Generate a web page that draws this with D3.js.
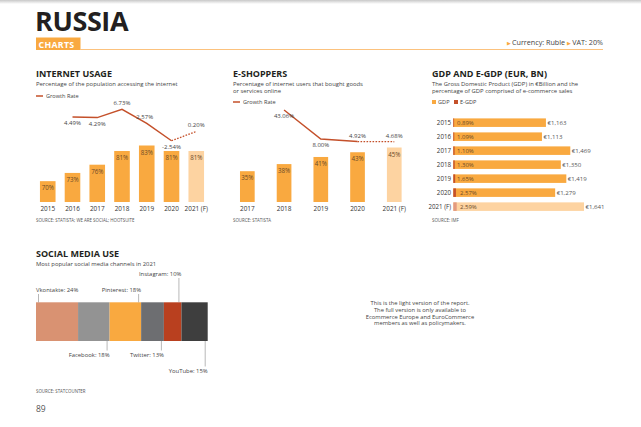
<!DOCTYPE html>
<html>
<head>
<meta charset="utf-8">
<script src="https://cdn.jsdelivr.net/npm/d3@7"></script>
<style>
  body { margin: 0; background: #fff; }
  text { font-family: "Open Sans", sans-serif; }
</style>
</head>
<body>
<div id="page"></div>
<script>
// chart values
var usageYears = ["2015", "2016", "2017", "2018", "2019", "2020", "2021 (F)"];
var usageValues = [70, 73, 76, 81, 83, 81, 81];
var usageGrowth = [null, 4.49, 4.29, 6.73, 2.57, -2.54, 0.20];

var shopperYears = ["2017", "2018", "2019", "2020", "2021 (F)"];
var shopperValues = [35, 38, 41, 43, 45];
var shopperGrowth = [null, 43.06, 8.00, 4.92, 4.68];

var gdpYears = ["2015", "2016", "2017", "2018", "2019", "2020", "2021 (F)"];
var gdpValues = [1163, 1113, 1469, 1350, 1419, 1279, 1641];
var egdpShare = [0.89, 1.09, 1.10, 1.30, 1.65, 2.57, 2.59];

var socialNames = ["Vkontakte", "Facebook", "Pinterest", "Twitter", "Instagram", "YouTube"];
var socialShares = [24, 18, 18, 13, 10, 15];

var orange = "#f9a940", orangeLight = "#fdd3a1", red = "#c4502a", redLight = "#e39a7f";
var dark = "#231f20", grey = "#555";

var W = 641, H = 427;
var svg = d3.select("#page").append("svg")
  .attr("width", W).attr("height", H);

// page shadow along the top
var grad = svg.append("defs").append("linearGradient")
  .attr("id", "topShade").attr("x1", 0).attr("y1", 0).attr("x2", 0).attr("y2", 1);
grad.append("stop").attr("offset", "0%").attr("stop-color", "#c8c8c8");
grad.append("stop").attr("offset", "100%").attr("stop-color", "#fff");
svg.append("rect").attr("width", W).attr("height", 4).attr("fill", "url(#topShade)");

/** page header */
svg.append("text").attr("x", 35).attr("y", 31)
  .text("RUSSIA").style("font-size", "27px").style("font-weight", 700)
  .style("fill", dark).style("letter-spacing", "-0.4px");
svg.append("rect").attr("x", 36).attr("y", 37.5).attr("width", 44.5).attr("height", 12.5).attr("fill", orange);
svg.append("text").attr("x", 38.5).attr("y", 48.3).text("CHARTS")
  .style("font-size", "8.8px").style("font-weight", 700).style("fill", "#fff")
  .style("letter-spacing", "0.3px");
svg.append("line").attr("x1", 80).attr("x2", 603).attr("y1", 49.5).attr("y2", 49.5)
  .attr("stroke", "#fcc27d").attr("stroke-width", 1);
var cur = svg.append("text").attr("x", 603).attr("y", 45).attr("text-anchor", "end")
  .style("font-size", "7.2px").style("fill", "#444");
cur.append("tspan").text("\u25B6 ").style("fill", orange).style("font-size", "5px");
cur.append("tspan").text("Currency: Ruble ");
cur.append("tspan").text("\u25B6 ").style("fill", orange).style("font-size", "5px");
cur.append("tspan").text("VAT: 20%");

/** block heading: title, subtitle lines */
function heading(x, y, title, lines) {
  svg.append("text").attr("x", x).attr("y", y).text(title)
    .style("font-size", "9px").style("font-weight", 700).style("fill", dark);
  lines.forEach(function(l, i) {
    svg.append("text").attr("x", x).attr("y", y + 9 + i * 7.3).text(l)
      .style("font-size", "5.9px").style("fill", "#444");
  });
}
function legendLine(x, y) {
  svg.append("line").attr("x1", x).attr("x2", x + 7).attr("y1", y).attr("y2", y)
    .attr("stroke", red).attr("stroke-width", 1.5);
  svg.append("text").attr("x", x + 10).attr("y", y + 2).text("Growth Rate")
    .style("font-size", "5.6px").style("fill", "#444");
}
function source(x, y, t) {
  svg.append("text").attr("x", x).attr("y", y).text(t)
    .style("font-size", "4.4px").style("fill", grey);
}

/** column chart with growth rate line; labelBelow says where each rate label sits */
function columnChart(opt) {
  var x = d3.scaleBand().domain(opt.years).range(opt.xRange)
    .paddingInner(opt.padIn).paddingOuter(opt.padOut);
  var y = d3.scaleLinear().domain(opt.yDomain).range([202, opt.yTop]);
  var g = d3.scaleLinear().domain(opt.gDomain).range(opt.gRange);

  svg.selectAll(null).data(opt.values).enter().append("rect")
    .attr("x", function(d, i) { return x(opt.years[i]); })
    .attr("y", function(d) { return y(d); })
    .attr("width", x.bandwidth())
    .attr("height", function(d) { return 202 - y(d); })
    .attr("fill", function(d, i) { return i == opt.values.length - 1 ? orangeLight : orange; });
  svg.selectAll(null).data(opt.values).enter().append("text")
    .attr("x", function(d, i) { return x(opt.years[i]) + x.bandwidth() / 2; })
    .attr("y", function(d) { return y(d) + 9; })
    .attr("text-anchor", "middle")
    .text(function(d) { return d + "%"; })
    .style("font-size", "6.2px").style("fill", "#6b4a28");

  var ax = svg.append("g").attr("transform", "translate(0,203)")
    .call(d3.axisBottom(x).tickSize(0).tickPadding(3));
  ax.select(".domain").remove();
  ax.selectAll("text").style("font-size", "6.4px").style("fill", "#333")
    .style("font-family", "Open Sans, sans-serif");

  var pts = opt.growth.map(function(d, i) {
    return d == null ? null : [x(opt.years[i]) + x.bandwidth() / 2, g(d), d, i];
  }).filter(function(d) { return d; });
  var line = d3.line();
  svg.append("path").attr("d", line(pts.slice(0, -1)))
    .attr("fill", "none").attr("stroke", red).attr("stroke-width", 1.5);
  svg.append("path").attr("d", line(pts.slice(-2)))
    .attr("fill", "none").attr("stroke", red).attr("stroke-width", 1.3)
    .attr("stroke-dasharray", "1.6,1.4");
  svg.selectAll(null).data(pts).enter().append("text")
    .attr("x", function(d) { return d[0] + (opt.labelDx[d[3]] || 0); })
    .attr("y", function(d) { return d[1] + (opt.labelBelow[d[3]] ? 8 : -4); })
    .attr("text-anchor", "middle")
    .text(function(d) { return d[2].toFixed(2) + "%"; })
    .style("font-size", "6px").style("fill", "#444");
}

/** INTERNET USAGE */
heading(36, 77, "INTERNET USAGE", ["Percentage of the population accessing the internet"]);
legendLine(36, 96);
columnChart({
  years: usageYears, values: usageValues, growth: usageGrowth,
  xRange: [35, 209], padIn: 0.37, padOut: 0.2,
  yDomain: [62.4, 83], yTop: 145.5,
  gDomain: [-3, 7], gRange: [142.3, 108.4],
  labelBelow: [0, 1, 1, 0, 0, 1, 0], labelDx: [0, 0, 0, 0, -2, 0, 0]
});
source(36, 222, "SOURCE: STATISTA; WE ARE SOCIAL; HOOTSUITE");

/** E-SHOPPERS */
heading(233, 77, "E-SHOPPERS", ["Percentage of internet users that bought goods", "or services online"]);
legendLine(233, 102);
columnChart({
  years: shopperYears, values: shopperValues, growth: shopperGrowth,
  xRange: [225.3, 416.3], padIn: 0.6, padOut: 0.4,
  yDomain: [22, 45], yTop: 147.5,
  gDomain: [0, 45], gRange: [145.6, 108.4],
  labelBelow: [0, 1, 1, 0, 0], labelDx: [0, 0, 0, 0, 0]
});
source(233, 222, "SOURCE: STATISTA");

/** GDP AND E-GDP */
heading(432, 77, "GDP AND E-GDP (EUR, BN)", ["The Gross Domestic Product (GDP) in \u20ACBillion and the", "percentage of GDP comprised of e-commerce sales"]);
[["GDP", orange, 432], ["E-GDP", red, 454]].forEach(function(l) {
  svg.append("rect").attr("x", l[2]).attr("y", 100).attr("width", 4).attr("height", 4).attr("fill", l[1]);
  svg.append("text").attr("x", l[2] + 6).attr("y", 104).text(l[0])
    .style("font-size", "5.6px").style("fill", "#444");
});
var gx = d3.scaleLinear().domain([0, 1641]).range([453.3, 584]);
var gy = d3.scaleBand().domain(gdpYears).range([115.6, 213.7]).paddingInner(0.39).paddingOuter(0.2);
var last = gdpYears.length - 1;
svg.selectAll(null).data(gdpValues).enter().append("rect")
  .attr("x", gx(0)).attr("y", function(d, i) { return gy(gdpYears[i]); })
  .attr("width", function(d) { return gx(d) - gx(0); }).attr("height", gy.bandwidth())
  .attr("fill", function(d, i) { return i == last ? orangeLight : orange; });
svg.selectAll(null).data(egdpShare).enter().append("rect")
  .attr("x", gx(0)).attr("y", function(d, i) { return gy(gdpYears[i]); })
  .attr("width", function(d, i) { return Math.max(0.8, gx(gdpValues[i] * d / 100) - gx(0)); })
  .attr("height", gy.bandwidth())
  .attr("fill", function(d, i) { return i == last ? redLight : red; });
svg.selectAll(null).data(egdpShare).enter().append("text")
  .attr("x", function(d, i) { return i >= 5 ? 460 : 457; })
  .attr("y", function(d, i) { return gy(gdpYears[i]) + gy.bandwidth() / 2 + 2.1; })
  .text(function(d) { return d.toFixed(2) + "%"; })
  .style("font-size", "6px").style("fill", "#6b4a28");
svg.selectAll(null).data(gdpValues).enter().append("text")
  .attr("x", function(d) { return gx(d) + 1.5; })
  .attr("y", function(d, i) { return gy(gdpYears[i]) + gy.bandwidth() / 2 + 2.1; })
  .text(function(d) { return "\u20AC" + d3.format(",")(d); })
  .style("font-size", "6.1px").style("fill", "#555");
var gyAxis = svg.append("g").attr("transform", "translate(452,0)")
  .call(d3.axisLeft(gy).tickSize(0).tickPadding(1));
gyAxis.select(".domain").remove();
gyAxis.selectAll("text").style("font-size", "6.2px").style("fill", "#333")
  .style("font-family", "Open Sans, sans-serif");
source(432, 222, "SOURCE: IMF");

/** SOCIAL MEDIA USE */
heading(36, 257, "SOCIAL MEDIA USE", ["Most popular social media channels in 2021"]);
var socialColors = ["#d99272", "#939393", "#f9a940", "#6d6e71", "#b9401f", "#3e3e3e"];
// where each label sits: row above (-) or below (+) the bar, anchor side
var socialPlace = [[-1, "start"], [1, "end"], [-1, "end"], [1, "end"], [-2, "end"], [2, "end"]];
var sx = d3.scaleLinear().domain([0, d3.sum(socialShares)]).range([36, 207.7]);
var barTop = 302.3, barBot = 341;
var cum = 0;
var segs = socialShares.map(function(v, i) {
  var s = { name: socialNames[i], v: v, x0: cum, x1: cum + v, i: i };
  cum += v;
  return s;
});
svg.selectAll(null).data(segs).enter().append("rect")
  .attr("x", function(d) { return sx(d.x0); }).attr("y", barTop)
  .attr("width", function(d) { return sx(d.x1) - sx(d.x0); }).attr("height", barBot - barTop)
  .attr("fill", function(d) { return socialColors[d.i]; });
segs.forEach(function(d) {
  var p = socialPlace[d.i];
  var lx = p[1] == "start" ? sx(d.x0) + 2.5 : sx(d.x1) - 2.5;
  var tx = p[1] == "start" ? sx(d.x0) : sx(d.x1);
  var ty;
  if (p[0] < 0) {
    ty = p[0] == -1 ? 292 : 276;
    svg.append("line").attr("x1", lx).attr("x2", lx).attr("y1", ty + 2).attr("y2", barTop)
      .attr("stroke", "#888").attr("stroke-width", 0.6);
  } else {
    ty = p[0] == 1 ? 357 : 373;
    svg.append("line").attr("x1", lx).attr("x2", lx).attr("y1", barBot).attr("y2", ty - 6.5)
      .attr("stroke", "#888").attr("stroke-width", 0.6);
  }
  svg.append("text").attr("x", tx).attr("y", ty).attr("text-anchor", p[1])
    .text(d.name + ": " + d.v + "%")
    .style("font-size", "5.9px").style("fill", "#444");
});
source(36, 393, "SOURCE: STATCOUNTER");

/** note and page number */
["This is the light version of the report.", "The full version is only available to",
 "Ecommerce Europe and EuroCommerce", "members as well as policymakers."].forEach(function(t, i) {
  svg.append("text").attr("x", 420).attr("y", 305 + i * 6.8).attr("text-anchor", "middle")
    .text(t).style("font-size", "5.8px").style("fill", "#444");
});
svg.append("text").attr("x", 36).attr("y", 412).text("89")
  .style("font-size", "8.5px").style("fill", "#555");
</script>
</body>
</html>
